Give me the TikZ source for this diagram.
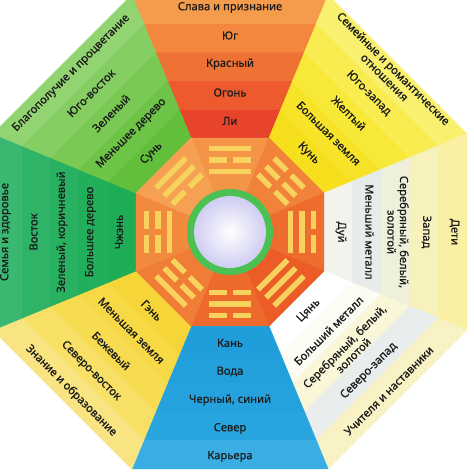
\documentclass[tikz,border=0pt]{standalone}
\usepackage{fontspec}
\setmainfont{Noto Sans}
\newfontfamily\lblfont{Noto Sans}[FakeBold=0.6]
\definecolor{txt}{HTML}{1C1C1C}
% South (top)
\definecolor{S0}{HTML}{E8432B}\definecolor{S1}{HTML}{EC5A2D}\definecolor{S2}{HTML}{EF7235}\definecolor{S3}{HTML}{F2873D}\definecolor{S4}{HTML}{F49B4C}
% South-west (top right)
\definecolor{SW0}{HTML}{F6E01E}\definecolor{SW1}{HTML}{F7E428}\definecolor{SW2}{HTML}{F8E838}\definecolor{SW3}{HTML}{F8EC50}\definecolor{SW4}{HTML}{F9F070}
% West (right)
\definecolor{W0}{HTML}{F3F3EE}\definecolor{W1}{HTML}{E7EBEA}\definecolor{W2}{HTML}{EEF0DC}\definecolor{W3}{HTML}{F7F1BE}\definecolor{W4}{HTML}{FAF0A4}
% North-west (bottom right)
\definecolor{NW0}{HTML}{FFFFFF}\definecolor{NW1}{HTML}{FCFCF5}\definecolor{NW2}{HTML}{FAF6D8}\definecolor{NW3}{HTML}{E9EDEB}\definecolor{NW4}{HTML}{F9F2C4}
% North (bottom)
\definecolor{N0}{HTML}{1F9EDB}\definecolor{N1}{HTML}{22A0DC}\definecolor{N2}{HTML}{25A2DD}\definecolor{N3}{HTML}{28A4DE}\definecolor{N4}{HTML}{3AAEE4}
% North-east (bottom left)
\definecolor{NE0}{HTML}{F5D538}\definecolor{NE1}{HTML}{F6D944}\definecolor{NE2}{HTML}{F7DC52}\definecolor{NE3}{HTML}{F8E066}\definecolor{NE4}{HTML}{F9E482}
% East (left)
\definecolor{E0}{HTML}{1FAC56}\definecolor{E1}{HTML}{23AE5B}\definecolor{E2}{HTML}{28B161}\definecolor{E3}{HTML}{2EB367}\definecolor{E4}{HTML}{3AB872}
% South-east (top left)
\definecolor{SE0}{HTML}{62BF3B}\definecolor{SE1}{HTML}{6DC447}\definecolor{SE2}{HTML}{79C954}\definecolor{SE3}{HTML}{85CE62}\definecolor{SE4}{HTML}{92D372}
% inner facets
\definecolor{FS}{HTML}{F39447}\definecolor{FSW}{HTML}{F1823A}\definecolor{FW}{HTML}{EE6C2D}\definecolor{FNW}{HTML}{EB5C27}
\definecolor{FN}{HTML}{EE6A2C}\definecolor{FNE}{HTML}{F07D36}\definecolor{FE}{HTML}{F28A3E}\definecolor{FSE}{HTML}{F5A052}
\definecolor{tri}{HTML}{F7D35E}
\definecolor{ring}{HTML}{4CC153}
\definecolor{lav}{HTML}{CFCDF2}
\newcommand\trigline[2]{%
  \ifnum#2=1
    \fill[tri] (-21,#1-2.75) rectangle (21,#1+2.75);
  \else
    \fill[tri] (-21,#1-2.75) rectangle (-3.2,#1+2.75);
    \fill[tri] (3.2,#1-2.75) rectangle (21,#1+2.75);
  \fi}
\begin{document}
\begin{tikzpicture}[x=1pt,y=1pt,
  lbl/.style={font=\lblfont\fontsize{11.2}{12.5}\selectfont, text=txt, inner sep=0pt, align=center}]
\useasboundingbox (-230,-242) rectangle (244,232);
\clip (-230,-242) rectangle (244,232);
\fill[white] (-230,-242) rectangle (244,232);
% outer sectors, five bands each
\foreach \th/\nm in {90/S,45/SW,0/W,-45/NW,-90/N,-135/NE,180/E,135/SE}{
  \foreach \j in {0,...,4}{
    \pgfmathsetmacro\ra{(94+28.6*\j)*1.08239}
    \pgfmathsetmacro\rb{(94+28.6*(\j+1))*1.08239}
    \edef\cname{\nm\j}
    \filldraw[fill=\cname, draw=\cname, line width=0.5pt, line join=round]
      (\th-22.5:\ra) -- (\th+22.5:\ra) -- (\th+22.5:\rb) -- (\th-22.5:\rb) -- cycle;
  }
}
% inner octagon facets
\foreach \th/\nm in {90/S,45/SW,0/W,-45/NW,-90/N,-135/NE,180/E,135/SE}{
  \edef\cname{F\nm}
  \filldraw[fill=\cname, draw=\cname, line width=0.5pt, line join=round]
    (0,0) -- (\th-22.5:101.74) -- (\th+22.5:101.74) -- cycle;
}
% trigrams (outer line first)
\foreach \th/\a/\b/\c in {90/1/0/1, 45/0/0/0, 0/0/1/1, -45/1/1/1, -90/0/1/0, -135/1/0/0, 180/0/0/1, 135/1/1/0}{
  \begin{scope}[rotate=\th-90]
    \trigline{83.5}{\a}
    \trigline{72}{\b}
    \trigline{60.5}{\c}
  \end{scope}
}
% central mirror
\fill[ring] (0,0) circle (43);
\shade[inner color=white, outer color=lav] (0,0) circle (36);
% South
\node[lbl] (s0) at (90:111) {Ли};
\node[lbl] (s1) at (90:139.5) {Огонь};
\node[lbl] (s2) at (90:168) {Красный};
\node[lbl] (s3) at (90:196.5) {Юг};
\node[lbl] (s4) at (90:224.5) {Слава и признание};
% South-west
\node[lbl, rotate=-45] (sw0) at (45:111) {Кунь};
\node[lbl, rotate=-45] (sw1) at (45:139.5) {Большая земля};
\node[lbl, rotate=-45] (sw2) at (45:168) {Желтый};
\node[lbl, rotate=-45] (sw3) at (45:196.5) {Юго-запад};
\node[lbl, rotate=-45] (sw4) at (45:225) {Семейные и романтические\\отношения};
% West
\node[lbl, rotate=-90] (w0) at (0:111) {Дуй};
\node[lbl, rotate=-90] (w1) at (0:139.5) {Меньший металл};
\node[lbl, rotate=-90] (w2) at (0:168) {Серебряный, белый,\\золотой};
\node[lbl, rotate=-90] (w3) at (0:196.5) {Запад};
\node[lbl, rotate=-90] (w4) at (0:224.5) {Дети};
% North-west
\node[lbl, rotate=45] (nw0) at (-45:111) {Цянь};
\node[lbl, rotate=45] (nw1) at (-45:139.5) {Больший металл};
\node[lbl, rotate=45] (nw2) at (-45:168) {Серебряный, белый,\\золотой};
\node[lbl, rotate=45] (nw3) at (-45:196.5) {Северо-запад};
\node[lbl, rotate=45] (nw4) at (-45:224.5) {Учителя и наставники};
% North
\node[lbl] (n0) at (-90:111) {Кань};
\node[lbl] (n1) at (-90:139.5) {Вода};
\node[lbl] (n2) at (-90:168) {Черный, синий};
\node[lbl] (n3) at (-90:196.5) {Север};
\node[lbl] (n4) at (-90:224.5) {Карьера};
% North-east
\node[lbl, rotate=-45] (ne0) at (-135:111) {Гэнь};
\node[lbl, rotate=-45] (ne1) at (-135:139.5) {Меньшая земля};
\node[lbl, rotate=-45] (ne2) at (-135:168) {Бежевый};
\node[lbl, rotate=-45] (ne3) at (-135:196.5) {Северо-восток};
\node[lbl, rotate=-45] (ne4) at (-135:224.5) {Знание и образование};
% East
\node[lbl, rotate=90] (e0) at (180:111) {Чжэнь};
\node[lbl, rotate=90] (e1) at (180:139.5) {Большее дерево};
\node[lbl, rotate=90] (e2) at (180:168) {Зеленый, коричневый};
\node[lbl, rotate=90] (e3) at (180:196.5) {Восток};
\node[lbl, rotate=90] (e4) at (180:224.5) {Семья и здоровье};
% South-east
\node[lbl, rotate=45] (se0) at (135:111) {Сунь};
\node[lbl, rotate=45] (se1) at (135:139.5) {Меньшее дерево};
\node[lbl, rotate=45] (se2) at (135:168) {Зеленый};
\node[lbl, rotate=45] (se3) at (135:196.5) {Юго-восток};
\node[lbl, rotate=45] (se4) at (135:224.5) {Благополучие и процветание};
\end{tikzpicture}
\end{document}
